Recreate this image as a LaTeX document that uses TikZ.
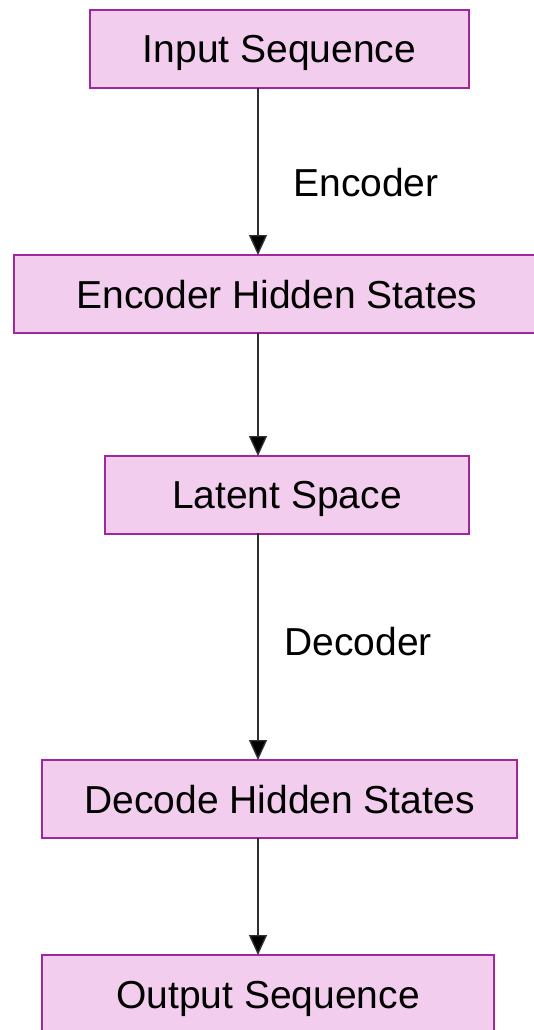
\documentclass[tikz,border=0pt]{standalone}
\usepackage{fontspec}
\setmainfont{Liberation Sans}
\usetikzlibrary{arrows.meta}
\definecolor{boxfill}{HTML}{F2CDED}
\definecolor{boxline}{HTML}{A0289C}
\definecolor{arrowline}{HTML}{303030}
\begin{document}
\begin{tikzpicture}[x=1pt,y=-1pt,
  stage/.style={draw=boxline,line width=2pt,fill=boxfill,rectangle,inner sep=0pt,
    text depth=0pt,font=\fontsize{39}{42}\selectfont,text=black},
  flow/.style={draw=arrowline,line width=1.4pt,-{Triangle[length=20pt,width=18pt,fill=black]}},
  lbl/.style={font=\fontsize{39}{42}\selectfont,text=black,text depth=0pt}]
\useasboundingbox (0,0) rectangle (533,1030);
\node[stage,minimum width=379pt,minimum height=78pt] (in) at (279.5,49) {Input Sequence};
\node[stage,minimum width=526pt,minimum height=78pt] (enc) at (277,294) {Encoder Hidden States};
\node[stage,minimum width=364pt,minimum height=78pt] (lat) at (287,494.5) {Latent Space};
\node[stage,minimum width=475pt,minimum height=78pt] (dec) at (279.5,799) {Decode Hidden States};
\node[stage,minimum width=452pt,minimum height=80pt] (out) at (268,995) {Output Sequence};
\coordinate (a1s) at (258,88); \coordinate (a1e) at (258,255);
\coordinate (a2s) at (258,333); \coordinate (a2e) at (258,456);
\coordinate (a3s) at (258,533); \coordinate (a3e) at (258,760);
\coordinate (a4s) at (258,838); \coordinate (a4e) at (258,955);
\draw[flow] (a1s) -- (a1e);
\draw[flow] (a2s) -- (a2e);
\draw[flow] (a3s) -- (a3e);
\draw[flow] (a4s) -- (a4e);
\node[lbl] (elbl) at (366,182) {Encoder};
\node[lbl] (dlbl) at (358,641) {Decoder};
\end{tikzpicture}
\end{document}
